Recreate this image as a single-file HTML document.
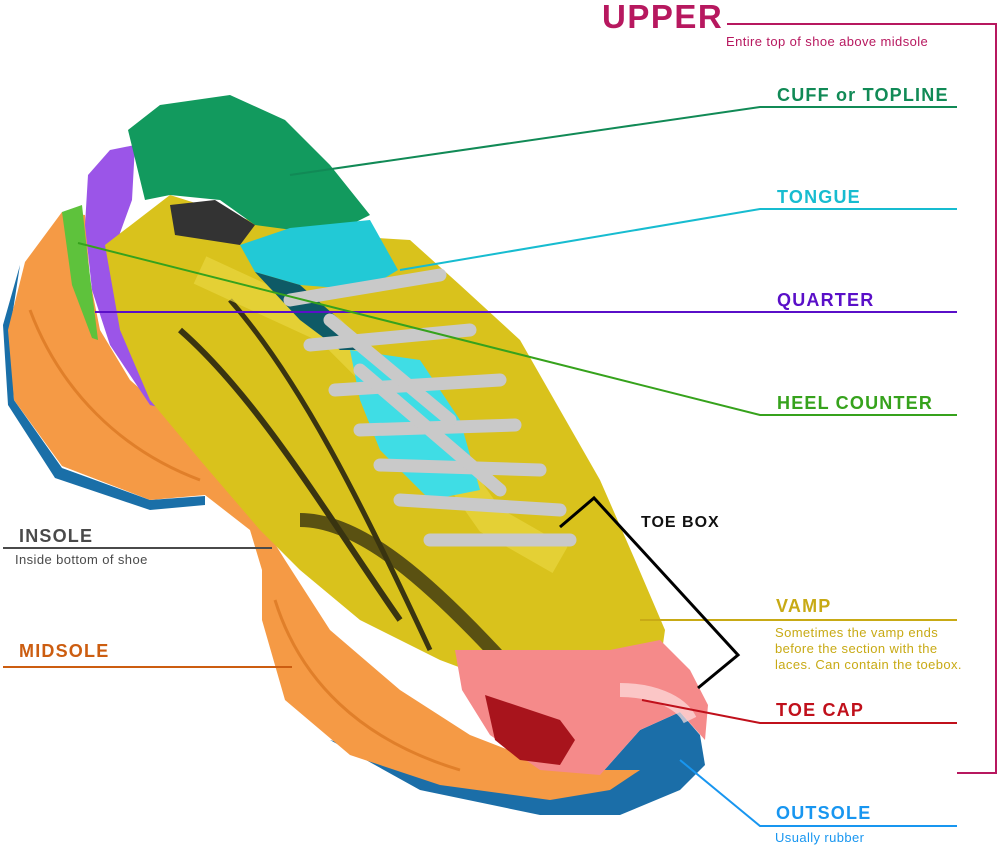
<!DOCTYPE html>
<html><head><meta charset="utf-8"><style>
html,body{margin:0;padding:0;background:#fff;}
svg{display:block;}
text{font-family:"Liberation Sans",sans-serif;}
.b{font-weight:bold;font-size:18px;letter-spacing:1.2px;}
.s{font-size:13px;letter-spacing:0.4px;}
</style></head><body>
<svg width="1000" height="849" viewBox="0 0 1000 849" xmlns="http://www.w3.org/2000/svg">
<!-- heel outsole thin -->
<path d="M20,265 L3,325 L8,405 L55,478 L150,510 L205,505 L205,496 L150,500 L62,468 L14,400 L10,330 Z" fill="#1a6fa8"/>
<!-- front outsole -->
<path d="M330,740 L420,790 L540,815 L620,815 L680,790 L705,765 L700,735 L680,712 L640,730 L600,775 L500,790 L400,760 Z" fill="#1b6ea8"/>
<!-- midsole -->
<path d="M62,212 L25,262 L8,330 L14,400 L62,466 L150,500 L205,495 L250,530 L262,570 L262,620 L285,700 L350,755 L440,785 L550,800 L610,790 L640,770 L560,770 L470,735 L400,690 L330,630 L285,560 L235,480 L170,415 L130,380 L100,330 L90,280 L85,215 Z" fill="#f59a45"/>
<path d="M30,310 C60,390 120,450 200,480" stroke="#e07f2a" stroke-width="3" fill="none"/>
<path d="M275,600 C300,680 360,740 460,770" stroke="#e07f2a" stroke-width="3" fill="none"/>
<!-- heel counter green -->
<path d="M62,212 L82,205 L88,260 L98,340 L92,338 L72,285 Z" fill="#5ec23c"/>
<!-- purple quarter -->
<path d="M88,175 L110,150 L135,145 L132,200 L112,255 L130,330 L170,410 L150,405 L110,345 L92,290 L85,225 Z" fill="#9b55e8"/>
<!-- yellow upper -->
<path d="M105,245 L170,195 L265,225 L330,235 L410,240 L460,285 L520,340 L560,410 L600,480 L635,560 L665,630 L660,665 L620,690 L520,690 L440,660 L360,620 L300,570 L260,530 L200,460 L150,400 L120,330 Z" fill="#d9c21c"/>
<path d="M180,330 C260,400 330,520 400,620" stroke="#3a3410" stroke-width="6" fill="none"/>
<path d="M230,300 C300,380 360,500 430,650" stroke="#3a3410" stroke-width="5" fill="none"/>
<path d="M300,520 C360,520 430,580 520,680" stroke="#3a3410" stroke-width="14" fill="none" opacity="0.8"/>
<path d="M200,270 L330,330 L420,420 L490,520 L560,560" stroke="#e8d640" stroke-width="30" fill="none" opacity="0.7"/>
<!-- green cuff -->
<path d="M128,130 L160,105 L230,95 L285,120 L330,165 L370,215 L330,235 L255,225 L220,200 L170,195 L145,200 Z" fill="#129a5e"/>
<!-- dark interior -->
<path d="M170,205 L215,200 L255,225 L240,245 L175,235 Z" fill="#333"/>
<!-- tongue -->
<path d="M240,245 L290,228 L370,220 L398,270 L365,290 L300,285 L255,272 Z" fill="#22c9d6"/>
<path d="M255,272 L300,285 L340,320 L370,350 L340,350 L300,320 Z" fill="#0e5a66"/>
<!-- cyan mesh -->
<path d="M350,350 L420,360 L460,420 L480,490 L430,500 L380,450 L360,400 Z" fill="#3fdde5"/>
<!-- laces -->
<g stroke="#c9c9c9" stroke-width="13" stroke-linecap="round" fill="none">
<path d="M290,300 L440,275"/><path d="M310,345 L470,330"/><path d="M335,390 L500,380"/>
<path d="M360,430 L515,425"/><path d="M380,465 L540,470"/><path d="M400,500 L560,510"/>
<path d="M430,540 L570,540"/><path d="M330,320 L450,420"/><path d="M360,370 L500,490"/>
</g>
<!-- toe cap -->
<path d="M455,650 L520,650 L610,650 L660,640 L690,670 L708,705 L705,740 L680,712 L640,730 L600,775 L540,770 L490,735 L462,690 Z" fill="#f58a8a"/>
<path d="M620,690 C650,690 680,700 690,720" stroke="#fde0e0" stroke-width="14" fill="none" opacity="0.7"/>
<path d="M485,695 L560,720 L575,740 L560,765 L520,760 L495,740 Z" fill="#a8141c"/>
<!-- LABELS -->
<g fill="none" stroke-width="2">
<polyline points="727,24 996,24 996,773 957,773" stroke="#b7185f"/>
<polyline points="290,175 760,107 957,107" stroke="#118a56"/>
<polyline points="400,270 760,209 957,209" stroke="#17bcd0"/>
<polyline points="95,312 957,312" stroke="#5a0fc8"/>
<polyline points="78,243 760,415 957,415" stroke="#36a21c"/>
<polyline points="640,620 957,620" stroke="#c8aa15"/>
<polyline points="642,700 760,723 957,723" stroke="#c0101b"/>
<polyline points="680,760 760,826 957,826" stroke="#1896f0"/>
<polyline points="3,548 272,548" stroke="#4a4a4a"/>
<polyline points="3,667 292,667" stroke="#cc5d10"/>
<polyline points="560,527 594,498 738,655 698,688" stroke="#000" stroke-width="3"/>
</g>
<text x="602" y="28" style="font-weight:bold;font-size:33px;letter-spacing:1.5px" fill="#b7185f">UPPER</text>
<text x="726" y="46" class="s" fill="#b7185f">Entire top of shoe above midsole</text>
<text x="777" y="101" class="b" fill="#118a56">CUFF or TOPLINE</text>
<text x="777" y="203" class="b" fill="#17bcd0">TONGUE</text>
<text x="777" y="306" class="b" fill="#5a0fc8">QUARTER</text>
<text x="777" y="409" class="b" fill="#36a21c">HEEL COUNTER</text>
<text x="641" y="527" style="font-weight:bold;font-size:16px;letter-spacing:1px" fill="#111">TOE BOX</text>
<text x="776" y="612" class="b" fill="#c8aa15">VAMP</text>
<text x="775" y="637" class="s" fill="#c8aa15">Sometimes the vamp ends</text>
<text x="775" y="653" class="s" fill="#c8aa15">before the section with the</text>
<text x="775" y="669" class="s" fill="#c8aa15">laces. Can contain the toebox.</text>
<text x="776" y="716" class="b" fill="#c0101b">TOE CAP</text>
<text x="776" y="819" class="b" fill="#1896f0">OUTSOLE</text>
<text x="775" y="842" class="s" fill="#1896f0">Usually rubber</text>
<text x="19" y="542" class="b" fill="#4a4a4a">INSOLE</text>
<text x="15" y="564" class="s" fill="#4a4a4a">Inside bottom of shoe</text>
<text x="19" y="657" class="b" fill="#cc5d10">MIDSOLE</text>
</svg>
</body></html>
